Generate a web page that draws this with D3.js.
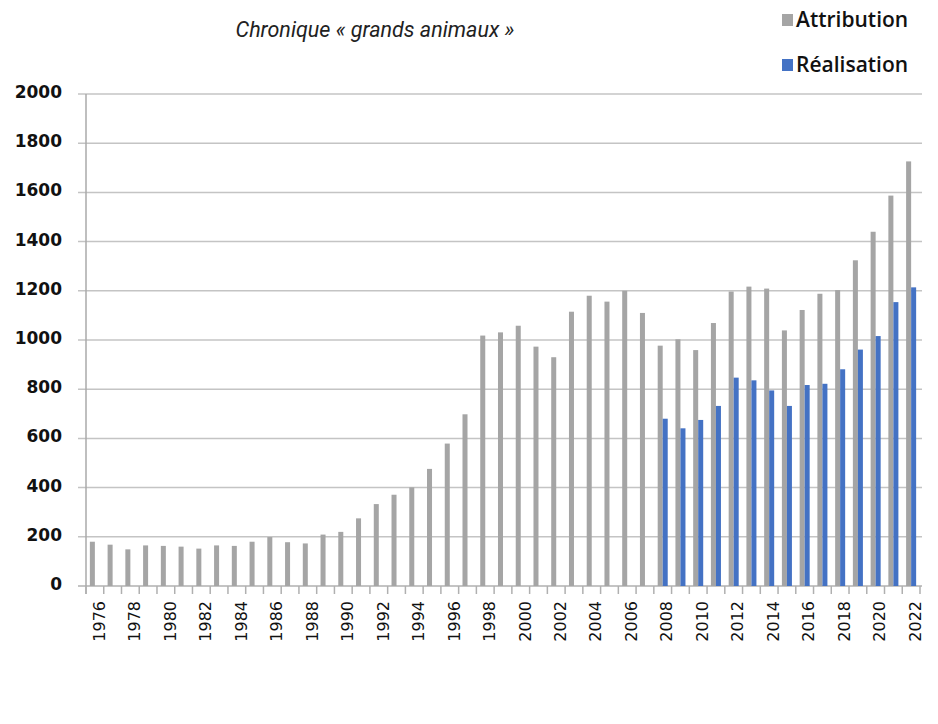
<!DOCTYPE html>
<head>
  <meta charset="utf-8">
  <script src="https://d3js.org/d3.v7.min.js"></script>
  <style>
    body { margin:0; background:#fff; }
    svg { display:block; }
  </style>
</head>

<body>
  <script>
    // data
    var years = d3.range(1976, 2023);
    var attribution = [180, 168, 149, 165, 163, 160, 152, 165, 163, 180,
                       199, 178, 173, 209, 220, 275, 333, 371, 401, 476,
                       579, 698, 1018, 1031, 1058, 973, 930, 1115, 1180, 1156,
                       1200, 1110, 977, 1003, 959, 1069, 1197, 1217, 1209, 1039,
                       1122, 1188, 1203, 1324, 1440, 1587, 1726];
    var realisation = {2008: 680, 2009: 641, 2010: 675, 2011: 732, 2012: 847,
                       2013: 836, 2014: 795, 2015: 732, 2016: 817, 2017: 822,
                       2018: 881, 2019: 961, 2020: 1016, 2021: 1154, 2022: 1214};
    var yTicks = [0, 200, 400, 600, 800, 1000, 1200, 1400, 1600, 1800, 2000];
    var series = ["Attribution", "Réalisation"];
    var colors = ["#a5a5a5", "#4472c4"];

    // plot box (window.top is read-only, so no "top" here)
    var W = 938, H = 724,
        plotL = 86, plotR = 920, plotT = 94, plotB = 586;

    var svg = d3.select("body").append("svg")
        .attr("width", W).attr("height", H);

    var x = d3.scaleBand().domain(years).range([plotL, plotR]).padding(0);
    var sub = d3.scaleBand().domain(series).range([0, x.bandwidth()])
        .paddingInner(0).paddingOuter(0.77);
    var y = d3.scaleLinear().domain([0, 2000]).range([plotB, plotT]);
    var color = d3.scaleOrdinal(series, colors);

    // gridlines + y labels
    svg.append("g").selectAll("line").data(yTicks).enter().append("line")
        .attr("x1", plotL - 8).attr("x2", plotR + 2)
        .attr("y1", function(d){ return y(d); })
        .attr("y2", function(d){ return y(d); })
        .attr("stroke", function(d){ return d ? "#c4c4c4" : "#b0b0b0"; })
        .attr("stroke-width", 1.5);

    svg.append("g").selectAll("text").data(yTicks).enter().append("text")
        .attr("x", 62)
        .attr("y", function(d){ return y(d) - 1; })
        .attr("text-anchor", "end")
        .attr("dominant-baseline", "middle")
        .style("font", "bold 17px 'DejaVu Sans'")
        .style("fill", "#111")
        .text(function(d){ return d; });

    // vertical axis line
    svg.append("line")
        .attr("x1", plotL).attr("x2", plotL)
        .attr("y1", plotT).attr("y2", plotB + 8)
        .attr("stroke", "#aaa").attr("stroke-width", 1.5);

    // x ticks at band edges
    svg.append("g").selectAll("line").data(years.concat([null])).enter().append("line")
        .attr("x1", function(d){ return d === null ? plotR : x(d); })
        .attr("x2", function(d){ return d === null ? plotR : x(d); })
        .attr("y1", plotB).attr("y2", plotB + 8)
        .attr("stroke", "#b0b0b0").attr("stroke-width", 1.5);

    // bars
    svg.append("g").selectAll("rect").data(years).enter().append("rect")
        .attr("x", function(d){ return x(d) + sub("Attribution"); })
        .attr("width", sub.bandwidth())
        .attr("y", function(d, i){ return y(attribution[i]); })
        .attr("height", function(d, i){ return plotB - y(attribution[i]); })
        .attr("fill", color("Attribution"));

    var realYears = years.filter(function(d){ return realisation[d] != null; });
    svg.append("g").selectAll("rect").data(realYears).enter().append("rect")
        .attr("x", function(d){ return x(d) + sub("Réalisation"); })
        .attr("width", sub.bandwidth())
        .attr("y", function(d){ return y(realisation[d]); })
        .attr("height", function(d){ return plotB - y(realisation[d]); })
        .attr("fill", color("Réalisation"));

    // x labels, every other year
    svg.append("g").selectAll("text").data(years.filter(function(d){ return d % 2 === 0; }))
      .enter().append("text")
        .attr("transform", function(d){
          return "translate(" + (x(d) + x.bandwidth() / 2 + 4) + "," + 601 + ") rotate(-90)";
        })
        .attr("text-anchor", "end")
        .attr("dy", "0.36em")
        .style("font", "16px 'DejaVu Sans'")
        .style("fill", "#111")
        .text(function(d){ return d; });

    // title
    svg.append("text")
        .attr("x", 375).attr("y", 37)
        .attr("text-anchor", "middle")
        .style("font", "italic 21.5px Roboto")
        .style("fill", "#222")
        .text("Chronique « grands animaux »");

    // legend
    var leg = svg.append("g").selectAll("g").data(series).enter().append("g")
        .attr("transform", function(d, i){ return "translate(782," + (i * 45) + ")"; });
    leg.append("rect")
        .attr("y", 14).attr("width", 11).attr("height", 12)
        .attr("fill", function(d){ return color(d); });
    leg.append("text")
        .attr("x", 14).attr("y", 27)
        .style("font", "600 21px 'Open Sans'")
        .style("fill", "#111")
        .text(function(d){ return d; });
  </script>
</body>
</html>
